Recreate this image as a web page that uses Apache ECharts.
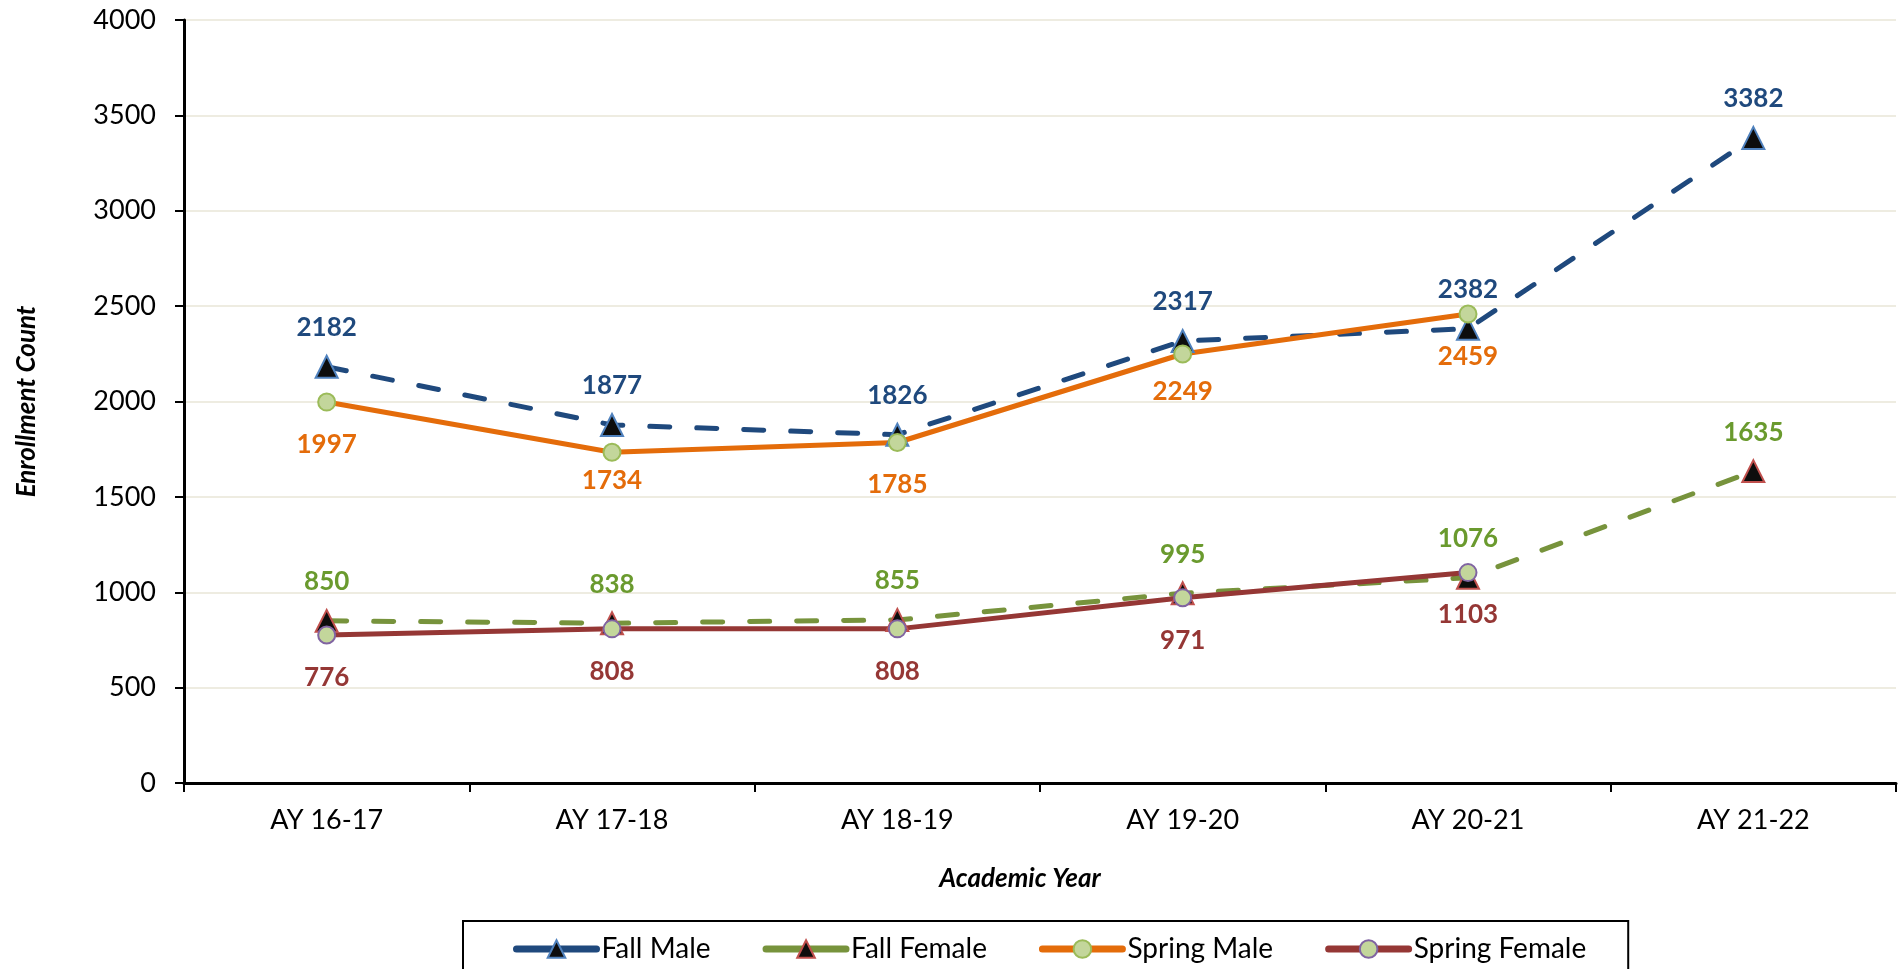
<!DOCTYPE html>
<html>
<head>
<meta charset="utf-8">
<script src="https://cdn.jsdelivr.net/npm/echarts@6/dist/echarts.min.js"></script>
<style>
html,body{margin:0;padding:0;background:#fff;}
#chart{width:1900px;height:969px;}
</style>
</head>
<body>
<div id="chart"></div>
<script>
const categories = ['AY 16-17','AY 17-18','AY 18-19','AY 19-20','AY 20-21','AY 21-22'];
const fallMale = [2182, 1877, 1826, 2317, 2382, 3382];
const fallFemale = [850, 838, 855, 995, 1076, 1635];
const springMale = [1997, 1734, 1785, 2249, 2459, null];
const springFemale = [776, 808, 808, 971, 1103, null];
const yTicks = {min: 0, max: 4000, interval: 500};

const FONT = 'Lato';
const chart = echarts.init(document.getElementById('chart'));

function lineSeries(name, data, opts) {
  const items = data.map(function (v, i) {
    const it = {value: v};
    if (opts.labelDist && opts.labelDist[i] !== undefined) {
      it.label = {distance: opts.labelDist[i]};
    }
    return it;
  });
  return {
    name: name,
    type: 'line',
    data: items,
    connectNulls: false,
    symbol: opts.symbol,
    symbolSize: opts.symbolSize,
    itemStyle: {color: opts.fill, borderColor: opts.border, borderWidth: 2},
    lineStyle: {color: opts.color, width: 5, type: opts.dashed ? [20, 27] : 'solid', cap: 'round'},
    label: {
      show: true,
      position: opts.labelPos,
      distance: opts.dist,
      color: opts.labelColor,
      fontFamily: FONT,
      fontWeight: 'bold',
      fontSize: 26
    },
    emphasis: {disabled: true},
    animation: false
  };
}

const option = {
  animation: false,
  grid: {left: 184, right: 4, top: 20, bottom: 186, containLabel: false},
  legend: {
    left: 463,
    top: 921,
    orient: 'horizontal',
    itemWidth: 80,
    itemHeight: 22,
    itemGap: 52,
    padding: [14, 42, 20, 50],
    borderColor: '#000',
    borderWidth: 2,
    lineStyle: {type: 'solid', width: 7, cap: 'round'},
    textStyle: {fontFamily: FONT, fontSize: 28, color: '#000'},
    data: ['Fall Male', 'Fall Female', 'Spring Male', 'Spring Female']
  },
  xAxis: {
    type: 'category',
    data: categories,
    boundaryGap: true,
    name: 'Academic Year',
    nameLocation: 'middle',
    nameGap: 83,
    nameTextStyle: {fontFamily: FONT, fontSize: 26, fontWeight: 'bold', fontStyle: 'italic', color: '#000', padding: [0, 40, 0, 0]},
    axisLine: {lineStyle: {color: '#000', width: 3}},
    axisTick: {show: true, alignWithLabel: false, length: 9, lineStyle: {color: '#000', width: 2}},
    axisLabel: {fontFamily: FONT, fontSize: 27, color: '#000', margin: 24},
    splitLine: {show: false}
  },
  yAxis: {
    type: 'value',
    min: yTicks.min,
    max: yTicks.max,
    interval: yTicks.interval,
    name: 'Enrollment Count',
    nameLocation: 'middle',
    nameRotate: 90,
    nameGap: 144,
    nameTextStyle: {fontFamily: FONT, fontSize: 26, fontWeight: 'bold', fontStyle: 'italic', color: '#000'},
    axisLine: {show: true, lineStyle: {color: '#000', width: 3}},
    axisTick: {show: true, length: 9, lineStyle: {color: '#000', width: 2}},
    axisLabel: {fontFamily: FONT, fontSize: 27, color: '#000', margin: 28, formatter: function (v) { return String(v); }},
    splitLine: {show: true, lineStyle: {color: '#EEECE1', width: 2}}
  },
  series: [
    lineSeries('Fall Male', fallMale, {symbol: 'triangle', symbolSize: 22, fill: '#0D0D0D', border: '#4F81BD', color: '#1F497D', dashed: true, labelPos: 'top', dist: 14, labelColor: '#1F497D'}),
    lineSeries('Fall Female', fallFemale, {symbol: 'triangle', symbolSize: 22, fill: '#0D0D0D', border: '#C0504D', color: '#77933C', dashed: true, labelPos: 'top', dist: 14, labelColor: '#6A9A2E'}),
    lineSeries('Spring Male', springMale, {symbol: 'circle', symbolSize: 17, fill: '#C3D69B', border: '#9BBB59', color: '#E46C0A', dashed: false, labelPos: 'bottom', dist: 20, labelDist: {1: 6, 3: 15}, labelColor: '#E46C0A'}),
    lineSeries('Spring Female', springFemale, {symbol: 'circle', symbolSize: 17, fill: '#C3D69B', border: '#8064A2', color: '#953735', dashed: false, labelPos: 'bottom', dist: 20, labelColor: '#953735'})
  ]
};
chart.setOption(option);
</script>
</body>
</html>
